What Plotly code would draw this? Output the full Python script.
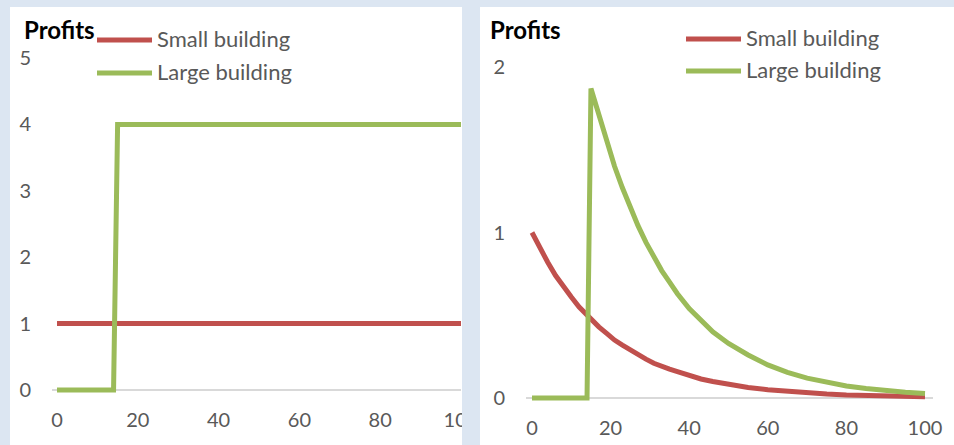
import plotly.graph_objects as go

# ---- data ----
x_left = [0, 14, 15, 100]
small_left = [1, 1, 1, 1]
large_left = [0, 0, 4, 4]

x_right = [0, 2, 4, 6, 8, 10, 12, 14, 15, 17, 19, 21, 23, 25, 27, 29, 31, 33, 35,
           37, 40, 43, 46, 50, 55, 60, 65, 70, 75, 80, 85, 90, 95, 100]
small_right = [1.0, 0.905, 0.82, 0.74, 0.67, 0.61, 0.55, 0.50, 0.47, 0.43, 0.39,
               0.35, 0.32, 0.29, 0.26, 0.235, 0.21, 0.19, 0.175, 0.16, 0.135, 0.115,
               0.10, 0.082, 0.064, 0.05, 0.039, 0.03, 0.024, 0.018, 0.014, 0.011,
               0.009, 0.007]
large_right = [0, 0, 0, 0, 0, 0, 0, 0, 1.87, 1.71, 1.55, 1.40, 1.27, 1.15, 1.04,
               0.94, 0.85, 0.77, 0.70, 0.63, 0.54, 0.47, 0.40, 0.33, 0.26, 0.20,
               0.155, 0.12, 0.094, 0.073, 0.057, 0.044, 0.035, 0.027]

series_names = ["Small building", "Large building"]
x_ticks = [0, 20, 40, 60, 80, 100]
y_ticks_left = [0, 1, 2, 3, 4, 5]
y_ticks_right = [0, 1, 2]

# ---- styles ----
RED = "#c0504d"
GREEN = "#9bbb59"
BG = "#dce6f2"
TXT = "#595959"
FONT = "Lato"
W, H = 954, 445
LW = 5

def px(v):
    return v / W

def py(v):
    return 1 - v / H

fig = go.Figure()
fig.add_trace(go.Scatter(x=x_left, y=small_left, mode="lines", name=series_names[0],
                         line=dict(color=RED, width=LW), xaxis="x", yaxis="y"))
fig.add_trace(go.Scatter(x=x_left, y=large_left, mode="lines", name=series_names[1],
                         line=dict(color=GREEN, width=LW), xaxis="x", yaxis="y"))
fig.add_trace(go.Scatter(x=x_right, y=small_right, mode="lines", name=series_names[0],
                         line=dict(color=RED, width=LW), xaxis="x2", yaxis="y2"))
fig.add_trace(go.Scatter(x=x_right, y=large_right, mode="lines", name=series_names[1],
                         line=dict(color=GREEN, width=LW), xaxis="x2", yaxis="y2"))

tickfont = dict(family=FONT, size=20, color=TXT)
common_x = dict(tickvals=x_ticks, showgrid=False, zeroline=False, showline=False,
                ticks="", tickfont=tickfont, ticklabelstandoff=9, fixedrange=True,
                automargin=False)
common_y = dict(showgrid=False, zeroline=True, zerolinecolor="#d9d9d9",
                zerolinewidth=1.5, showline=False, ticks="", tickfont=tickfont,
                ticklabelstandoff=20, fixedrange=True, automargin=False)

shapes = [
    dict(type="rect", xref="paper", yref="paper", x0=px(10), x1=px(462),
         y0=py(445), y1=py(7), fillcolor="white", line=dict(width=0), layer="below"),
    dict(type="rect", xref="paper", yref="paper", x0=px(480), x1=px(954),
         y0=py(445), y1=py(7), fillcolor="white", line=dict(width=0), layer="below"),
    # gap between the panels hides the clipped end of the left chart
    dict(type="rect", xref="paper", yref="paper", x0=px(462), x1=px(480),
         y0=py(445), y1=py(0), fillcolor=BG, line=dict(width=0), layer="above"),
]

annotations = []
# legends drawn by hand (line sample + text)
legend_pos = [
    [(97, 152, 40, 155), (97, 152, 73, 155)],
    [(686, 741, 39, 744), (686, 741, 71, 744)],
]
colors = [RED, GREEN]
for panel in legend_pos:
    for (x0, x1, yy, tx), c, name in zip(panel, colors, series_names):
        shapes.append(dict(type="line", xref="paper", yref="paper", x0=px(x0), x1=px(x1),
                           y0=py(yy), y1=py(yy), line=dict(color=c, width=LW)))
        annotations.append(dict(text=name, xref="paper", yref="paper", x=px(tx),
                                y=py(yy - 2), xanchor="left", yanchor="middle",
                                showarrow=False,
                                font=dict(family=FONT, size=22, color=TXT)))

for tx in (22, 488):
    annotations.append(dict(text="<b>Profits</b>", xref="paper", yref="paper",
                            x=px(tx), y=py(30), xanchor="left", yanchor="middle",
                            showarrow=False, font=dict(family=FONT, size=24, color="black")))

fig.update_layout(
    template="none",
    width=W, height=H,
    margin=dict(l=0, r=0, t=0, b=0, pad=0),
    paper_bgcolor=BG, plot_bgcolor="rgba(0,0,0,0)",
    showlegend=False,
    xaxis=dict(domain=[px(52.15), px(461)], range=[-1.2, 100], anchor="y", **common_x),
    yaxis=dict(domain=[py(396.64), py(58)], range=[-0.1, 5], tickvals=y_ticks_left,
               anchor="x", **common_y),
    xaxis2=dict(domain=[px(526.1), px(932.86)], range=[-1.5, 102], anchor="y2", **common_x),
    yaxis2=dict(domain=[py(404.62), py(67)], range=[-0.04, 2], tickvals=y_ticks_right,
                anchor="x2", **common_y),
    shapes=shapes,
    annotations=annotations,
)

post = ("var gd=document.getElementById('{plot_id}');"
        "document.documentElement.style.margin='0';"
        "document.body.style.margin='0';document.body.style.padding='0';"
        "document.body.style.overflow='hidden';"
        "gd.style.position='absolute';gd.style.left='0px';gd.style.top='0px';")
fig.write_html("out.html", post_script=post, config={"displayModeBar": False})
